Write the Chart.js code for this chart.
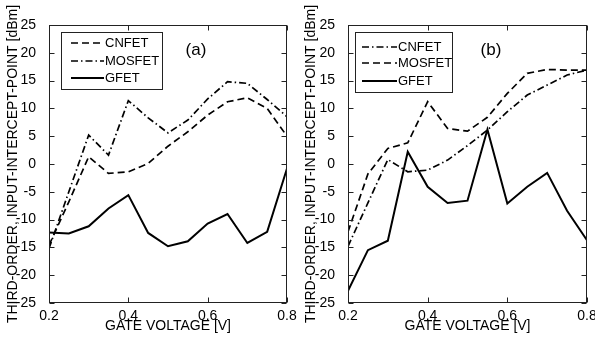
<!DOCTYPE html>
<html>
<head>
<meta charset="utf-8">
<title>Third-order input intercept point vs gate voltage</title>
<script src="https://cdn.jsdelivr.net/npm/chart.js@4.4.0/dist/chart.umd.min.js"></script>
<style>
  html, body { margin: 0; padding: 0; background: #fff; }
  #wrap { position: relative; width: 595px; height: 338px; overflow: hidden; }
  .panel { position: absolute; top: 0; height: 338px; }
</style>
</head>
<body>
<div id="wrap">
  <div class="panel" style="left:0; width:297px;"><canvas id="chartA" width="297" height="338"></canvas></div>
  <div class="panel" style="left:297px; width:298px;"><canvas id="chartB" width="298" height="338"></canvas></div>
</div>
<script>
/* ---------- data ---------- */
const gateVoltage = [0.2, 0.25, 0.3, 0.35, 0.4, 0.45, 0.5, 0.55, 0.6, 0.65, 0.7, 0.75, 0.8];
const xTicks = [0.2, 0.4, 0.6, 0.8];
const yTicks = [-25, -20, -15, -10, -5, 0, 5, 10, 15, 20, 25];

// panel (a)
const cnfetA  = [-14.6, -6.8, 1.3, -1.7, -1.4, 0.1, 3.2, 5.8, 8.8, 11.2, 11.9, 10.0, 5.0];
const mosfetA = [-15.2, -5.0, 5.2, 1.6, 11.4, 8.3, 5.6, 7.9, 11.7, 14.8, 14.5, 11.6, 8.5];
const gfetA   = [-12.3, -12.5, -11.2, -8.0, -5.6, -12.4, -14.8, -13.9, -10.7, -9.0, -14.2, -12.2, -0.8];

// panel (b)
const cnfetB  = [-14.8, -7.0, 0.8, -1.4, -1.1, 0.7, 3.3, 6.1, 9.4, 12.4, 14.2, 16.0, 16.9];
const mosfetB = [-12.2, -1.8, 2.8, 3.8, 11.2, 6.4, 5.9, 8.4, 12.7, 16.3, 17.0, 16.9, 16.9];
const gfetB   = [-22.8, -15.5, -13.8, 2.2, -4.1, -7.0, -6.6, 6.2, -7.1, -4.1, -1.6, -8.4, -13.7];

/* ---------- styles ---------- */
const FONT = "'Liberation Sans', Arial, sans-serif";
const DASH = [7, 4];
const DASHDOT = [7, 3, 1.5, 3];
const SOLID = [];

Chart.defaults.font.family = FONT;
Chart.defaults.color = '#000';

function pts(ys) {
  return gateVoltage.map((x, i) => ({ x: x, y: ys[i] }));
}

function series(label, ys, dash, width) {
  return {
    label: label,
    data: pts(ys),
    borderColor: '#000',
    borderWidth: width,
    borderDash: dash,
    pointRadius: 0,
    tension: 0,
    fill: false,
  };
}

/* frame, inward ticks, legend box and panel tag */
const framePlugin = {
  id: 'frame',
  afterDraw(chart, args, o) {
    const { ctx, chartArea: a, scales } = chart;
    const L = Math.round(a.left) + 0.5, R = Math.round(a.right) - 0.5;
    const T = Math.round(a.top) + 0.5, B = Math.round(a.bottom) - 0.5;
    ctx.save();
    ctx.strokeStyle = '#222';
    ctx.lineWidth = 1;
    ctx.setLineDash([]);
    ctx.strokeRect(L, T, R - L, B - T);

    ctx.beginPath();
    yTicks.forEach(v => {
      const py = Math.round(scales.y.getPixelForValue(v)) + 0.5;
      ctx.moveTo(L, py); ctx.lineTo(L + 5, py);
      ctx.moveTo(R, py); ctx.lineTo(R - 5, py);
    });
    xTicks.forEach(v => {
      const px = Math.round(scales.x.getPixelForValue(v)) + 0.5;
      ctx.moveTo(px, B); ctx.lineTo(px, B - 5);
      ctx.moveTo(px, T); ctx.lineTo(px, T + 5);
    });
    ctx.stroke();

    // legend
    const box = o.box;
    ctx.fillStyle = '#fff';
    ctx.fillRect(box[0], box[1], box[2], box[3]);
    ctx.strokeRect(box[0] + 0.5, box[1] + 0.5, box[2], box[3]);
    ctx.font = '13px ' + FONT;
    ctx.textBaseline = 'middle';
    ctx.textAlign = 'left';
    chart.data.datasets.forEach((ds, i) => {
      const y = o.rows[i];
      ctx.beginPath();
      ctx.setLineDash(ds.borderDash);
      ctx.lineWidth = ds.borderWidth;
      ctx.strokeStyle = '#000';
      ctx.moveTo(o.lineX[0], y);
      ctx.lineTo(o.lineX[1], y);
      ctx.stroke();
      ctx.fillStyle = '#000';
      ctx.fillText(ds.label, o.textX, y + 0.5);
    });

    // panel tag
    ctx.font = '17px ' + FONT;
    ctx.textAlign = 'center';
    ctx.fillText(o.tag, o.tagPos[0], o.tagPos[1]);
    ctx.restore();
  }
};

function makeChart(id, datasets, p) {
  return new Chart(document.getElementById(id), {
    type: 'line',
    data: { datasets: datasets },
    options: {
      responsive: false,
      animation: false,
      layout: { padding: { left: 0, top: 25, right: p.right, bottom: 0 } },
      plugins: {
        legend: { display: false },
        tooltip: { enabled: false },
        frame: p.frame,
      },
      scales: {
        x: {
          type: 'linear',
          min: 0.2,
          max: 0.8,
          afterBuildTicks: s => { s.ticks = xTicks.map(v => ({ value: v })); },
          afterFit: s => { s.height = 35; },
          grid: { display: false },
          border: { display: false },
          ticks: { padding: -3, font: { size: 14 }, color: '#000', maxRotation: 0, callback: v => v.toFixed(1) },
          title: { display: true, text: 'GATE VOLTAGE [V]', font: { size: 14 }, color: '#000', padding: { top: 0, bottom: 3 } },
        },
        y: {
          min: -25,
          max: 25,
          afterBuildTicks: s => { s.ticks = yTicks.map(v => ({ value: v })); },
          afterFit: s => { s.width = p.yWidth; },
          grid: { display: false },
          border: { display: false },
          ticks: { padding: 5, font: { size: 14 }, color: '#000' },
          title: { display: true, text: 'THIRD-ORDER, INPUT-INTERCEPT-POINT [dBm]', font: { size: 14 }, color: '#000', padding: { top: p.titlePad, bottom: 0 } },
        },
      },
    },
    plugins: [framePlugin],
  });
}

makeChart('chartA', [
  series('CNFET', cnfetA, DASH, 1.7),
  series('MOSFET', mosfetA, DASHDOT, 1.7),
  series('GFET', gfetA, SOLID, 2),
], {
  right: 10, yWidth: 49, titlePad: 5,
  frame: { box: [61, 32, 101, 57], rows: [43, 61, 78], lineX: [71, 104], textX: 105, tag: '(a)', tagPos: [196, 50] },
});

makeChart('chartB', [
  series('CNFET', cnfetB, DASHDOT, 1.7),
  series('MOSFET', mosfetB, DASH, 1.7),
  series('GFET', gfetB, SOLID, 2),
], {
  right: 8, yWidth: 51, titlePad: 6,
  frame: { box: [58, 32, 97, 60], rows: [47, 63, 81], lineX: [65, 100], textX: 101, tag: '(b)', tagPos: [194, 50] },
});
</script>
</body>
</html>
